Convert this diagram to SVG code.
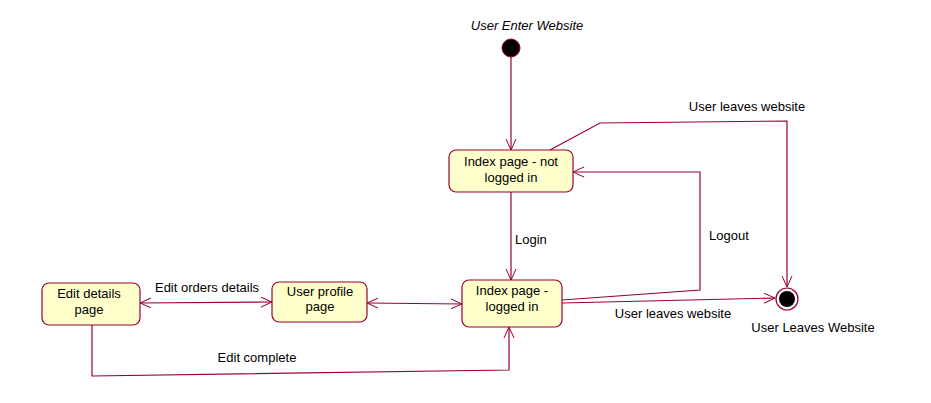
<svg xmlns="http://www.w3.org/2000/svg" width="931" height="403" viewBox="0 0 931 403">
<defs>
<marker id="arr" viewBox="0 0 12 12" refX="11" refY="6" markerWidth="12" markerHeight="12" markerUnits="userSpaceOnUse" orient="auto-start-reverse">
<path d="M0,1 L11,6 L0,11" fill="none" stroke="#990033" stroke-width="1"/>
</marker>
<style>
.node{fill:#ffffcc;stroke:#990033;stroke-width:1.2}
.c{fill:none;stroke:#990033;stroke-width:1.2}
text{font-family:"Liberation Sans",Arial,sans-serif;font-size:13px;fill:#000}
.m{text-anchor:middle}
</style>
</defs>
<rect width="931" height="403" fill="#fff"/>
<g id="connectors">
<path class="c" d="M511,57 L511,150" marker-end="url(#arr)"/>
<path class="c" d="M511,192 L511,280" marker-end="url(#arr)"/>
<path class="c" d="M562,300 L700,290 L700,172 L573,172" marker-end="url(#arr)"/>
<path class="c" d="M562,303 L775,298" marker-end="url(#arr)"/>
<path class="c" d="M550,150 L600,123 L787,121 L787,287" marker-end="url(#arr)"/>
<path class="c" d="M140,303 L272,302" marker-start="url(#arr)" marker-end="url(#arr)"/>
<path class="c" d="M367,303 L462,304" marker-start="url(#arr)" marker-end="url(#arr)"/>
<path class="c" d="M92,325 L92,376 L509,370 L509,327" marker-end="url(#arr)"/>
<text x="515" y="244">Login</text>
<text x="709" y="240">Logout</text>
<text class="m" x="673" y="318">User leaves website</text>
<text class="m" x="747" y="111">User leaves website</text>
<text class="m" x="207" y="292">Edit orders details</text>
<text class="m" x="257" y="362">Edit complete</text>
</g>
<g id="start">
<text class="m" x="527" y="30" font-style="italic">User Enter Website</text>
<circle cx="511" cy="48" r="9" fill="#000" stroke="#990033" stroke-width="1"/>
</g>
<g id="index-not-logged">
<rect class="node" x="449" y="150" width="124" height="42" rx="7"/>
<text class="m" x="511" y="166">Index page - not</text>
<text class="m" x="511" y="182">logged in</text>
</g>
<g id="index-logged">
<rect class="node" x="462" y="280" width="100" height="47" rx="7"/>
<text class="m" x="512" y="295">Index page -</text>
<text class="m" x="512" y="311">logged in</text>
</g>
<g id="edit-details">
<rect class="node" x="42" y="283" width="98" height="42" rx="7"/>
<text class="m" x="89" y="298">Edit details</text>
<text class="m" x="89" y="314">page</text>
</g>
<g id="user-profile">
<rect class="node" x="272" y="282" width="95" height="40" rx="7"/>
<text class="m" x="320" y="296">User profile</text>
<text class="m" x="320" y="311">page</text>
</g>
<g id="end">
<circle cx="787" cy="299" r="11" fill="#fff" stroke="#990033" stroke-width="1.2"/>
<circle cx="787" cy="299" r="8" fill="#000"/>
<text class="m" x="813" y="332">User Leaves Website</text>
</g>
</svg>
